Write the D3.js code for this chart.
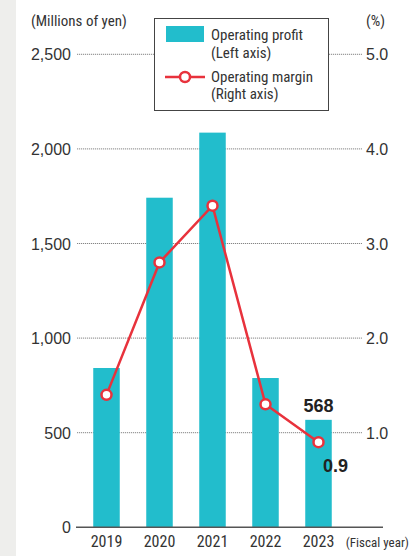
<!DOCTYPE html>
<html>
<head>
<meta charset="utf-8">
<script src="https://cdn.jsdelivr.net/npm/d3@7"></script>
<style>
  html, body { margin: 0; padding: 0; background: #fff; }
  svg { display: block; font-family: "Liberation Sans Narrow", "Roboto Condensed", "Liberation Sans", sans-serif; }
</style>
</head>
<body>
<svg id="chart" width="411" height="556"></svg>
<script>
// Fiscal years and their values
const years = ["2019", "2020", "2021", "2022", "2023"];
const operatingProfit = [842, 1742, 2086, 789, 568];   // millions of yen
const operatingMargin = [1.4, 2.8, 3.4, 1.3, 0.9];     // %
const leftTicks = [0, 500, 1000, 1500, 2000, 2500];
const rightTicks = [1.0, 2.0, 3.0, 4.0, 5.0];

const svg = d3.select("#chart");
const ink = "#333";
const teal = "#22bdcc";
const red = "#e8323c";

// side band
svg.append("rect").attr("x", 0).attr("y", 0).attr("width", 16).attr("height", 556).attr("fill", "#eeeeec");

const x = d3.scaleBand().domain(years).range([80, 345]).paddingInner(0.5).paddingOuter(0.25);
const yL = d3.scaleLinear().domain([0, 2500]).range([527.3, 54.3]);
const yR = d3.scaleLinear().domain([0, 5]).range([527.3, 54.3]);

// dotted gridlines
svg.append("g").selectAll("line").data(leftTicks.slice(1)).join("line")
  .attr("x1", 77).attr("x2", 362)
  .attr("y1", d => yL(d)).attr("y2", d => yL(d))
  .attr("stroke", "#666").attr("stroke-width", 0.8).attr("stroke-dasharray", "1.2,0.8");

// left axis labels
const leftAxis = d3.axisLeft(yL).tickValues(leftTicks).tickSize(0).tickPadding(0)
  .tickFormat(d3.format(","));
const gl = svg.append("g").attr("transform", "translate(71,0)").call(leftAxis);
gl.select(".domain").remove();
gl.selectAll("text").attr("fill", ink).attr("font-size", 16).attr("font-family", null).attr("dy", "0.35em");

// right axis labels
const rightAxis = d3.axisRight(yR).tickValues(rightTicks).tickSize(0).tickPadding(0)
  .tickFormat(d3.format(".1f"));
const gr = svg.append("g").attr("transform", "translate(366,0)").call(rightAxis);
gr.select(".domain").remove();
gr.selectAll("text").attr("fill", ink).attr("font-size", 16).attr("font-family", null).attr("dy", "0.35em");

// bars
svg.append("g").selectAll("rect").data(years).join("rect")
  .attr("x", d => x(d)).attr("width", x.bandwidth())
  .attr("y", (d, i) => yL(operatingProfit[i]))
  .attr("height", (d, i) => yL(0) - yL(operatingProfit[i]))
  .attr("fill", teal);

// baseline
svg.append("line").attr("x1", 76).attr("x2", 383).attr("y1", yL(0)).attr("y2", yL(0))
  .attr("stroke", "#555").attr("stroke-width", 1.5);

// year labels
svg.append("g").selectAll("text").data(years).join("text")
  .attr("x", d => x(d) + x.bandwidth() / 2).attr("y", 547)
  .attr("text-anchor", "middle").attr("font-size", 16).attr("fill", ink).text(d => d);
svg.append("text").attr("x", 409).attr("y", 547).attr("text-anchor", "end")
  .attr("font-size", 13).attr("fill", ink).text("(Fiscal year)");

// margin line
const line = d3.line().x((d, i) => x(years[i]) + x.bandwidth() / 2).y(d => yR(d));
svg.append("path").datum(operatingMargin).attr("d", line)
  .attr("fill", "none").attr("stroke", red).attr("stroke-width", 2.5);
svg.append("g").selectAll("circle").data(operatingMargin).join("circle")
  .attr("cx", (d, i) => x(years[i]) + x.bandwidth() / 2).attr("cy", d => yR(d)).attr("r", 5)
  .attr("fill", "#fff").attr("stroke", red).attr("stroke-width", 2.5);

// value labels for the latest year
const last = years.length - 1;
const cxLast = x(years[last]) + x.bandwidth() / 2;
svg.append("text").attr("x", cxLast).attr("y", yL(operatingProfit[last]) - 8)
  .attr("text-anchor", "middle").attr("font-size", 18).attr("font-weight", "bold").attr("fill", "#222")
  .attr("font-family", "Liberation Sans, sans-serif")
  .text(operatingProfit[last]);
svg.append("text").attr("x", cxLast + 17).attr("y", yR(operatingMargin[last]) + 30)
  .attr("text-anchor", "middle").attr("font-size", 18).attr("font-weight", "bold").attr("fill", "#222")
  .attr("font-family", "Liberation Sans, sans-serif")
  .text(d3.format(".1f")(operatingMargin[last]));

// axis titles
svg.append("text").attr("x", 31).attr("y", 26).attr("font-size", 15).attr("fill", ink).text("(Millions of yen)");
svg.append("text").attr("x", 385).attr("y", 26).attr("text-anchor", "end").attr("font-size", 15).attr("fill", ink).text("(%)");

// legend
const lg = svg.append("g");
lg.append("rect").attr("x", 154.5).attr("y", 18.5).attr("width", 174).attr("height", 92)
  .attr("fill", "#fff").attr("stroke", "#444").attr("stroke-width", 1);
lg.append("rect").attr("x", 166).attr("y", 26).attr("width", 38).attr("height", 16).attr("fill", teal);
lg.append("line").attr("x1", 165).attr("x2", 205).attr("y1", 77).attr("y2", 77).attr("stroke", red).attr("stroke-width", 2.5);
lg.append("circle").attr("cx", 185).attr("cy", 77).attr("r", 5).attr("fill", "#fff").attr("stroke", red).attr("stroke-width", 2.5);
const legendLines = [["Operating profit", 40], ["(Left axis)", 58], ["Operating margin", 81.5], ["(Right axis)", 99]];
lg.selectAll("text.l").data(legendLines).join("text").attr("class", "l")
  .attr("x", 211).attr("y", d => d[1]).attr("font-size", 15).attr("fill", ink).text(d => d[0]);
</script>
</body>
</html>
